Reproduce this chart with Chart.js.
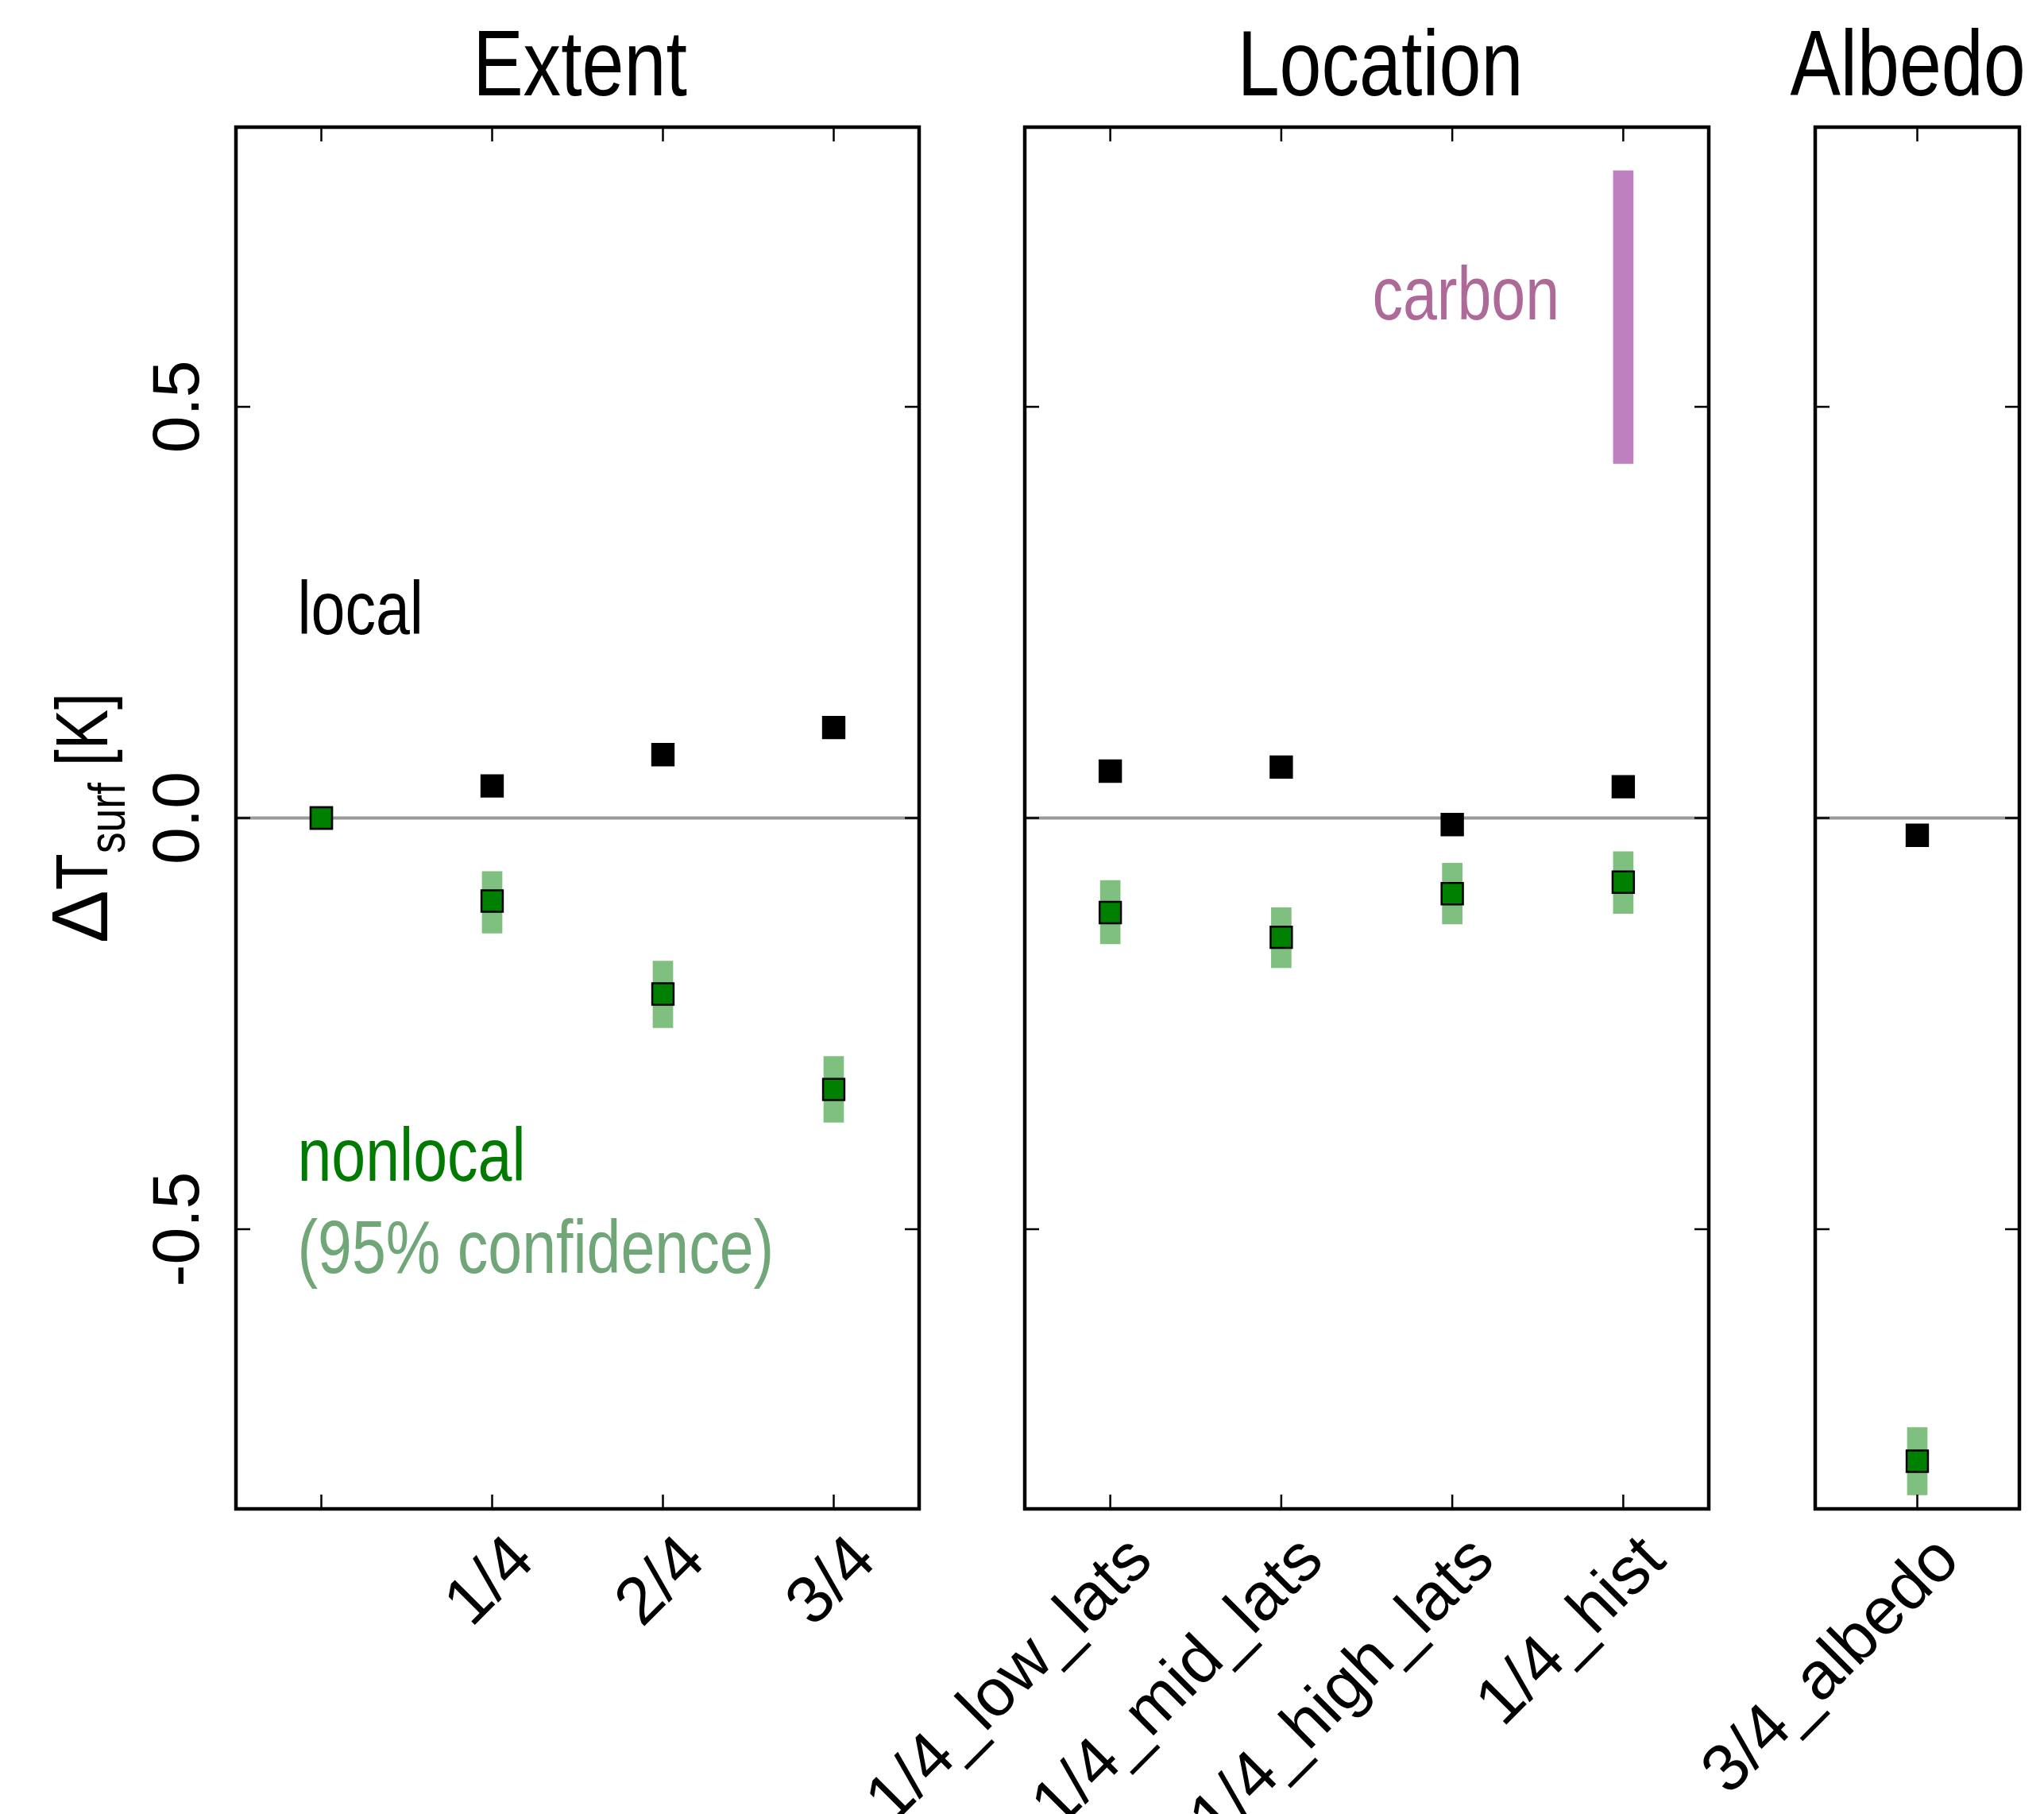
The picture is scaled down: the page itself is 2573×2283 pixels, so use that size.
<!DOCTYPE html>
<html lang="en">
<head>
    <meta charset="UTF-8">
    <title>Surface temperature response: Extent, Location, Albedo</title>
    <style>
        body {
            margin: 0;
            background: #fff;
        }
        .wrap {
            position: relative;
            width: 2573px;
            height: 2283px;
            overflow: hidden;
        }
        .panel {
            position: absolute;
            top: 0;
            height: 2283px;
        }
        #p1 { left: 0; width: 1230px; }
        #p2 { left: 1000px; width: 1220px; }
        #p3 { left: 1900px; width: 673px; }
    </style>
</head>
<body>
<div class="wrap">
    <div class="panel" id="p1"><canvas id="extentChart"></canvas></div>
    <div class="panel" id="p2"><canvas id="locationChart"></canvas></div>
    <div class="panel" id="p3"><canvas id="albedoChart"></canvas></div>
</div>

<script src="https://cdn.jsdelivr.net/npm/chart.js"></script>
<script>
    // y range and ticks shared by all three panels
    var yMin = -0.84, yMax = 0.84;
    var yTickValues = [-0.5, 0, 0.5];

    // Extent panel
    var extentLabels = ['', '1/4', '2/4', '3/4'];
    var extentLocal = [0, 0.039, 0.077, 0.110];
    var extentNonlocal = [0, -0.101, -0.214, -0.330];
    var extentCiLow = [null, -0.140, -0.255, -0.370];
    var extentCiHigh = [null, -0.065, -0.174, -0.290];

    // Location panel
    var locationLabels = ['1/4_low_lats', '1/4_mid_lats', '1/4_high_lats', '1/4_hist'];
    var locationLocal = [0.057, 0.062, -0.008, 0.038];
    var locationNonlocal = [-0.115, -0.145, -0.092, -0.078];
    var locationCiLow = [-0.153, -0.182, -0.129, -0.116];
    var locationCiHigh = [-0.076, -0.109, -0.055, -0.041];
    var carbonLow = [null, null, null, 0.431];
    var carbonHigh = [null, null, null, 0.787];

    // Albedo panel
    var albedoLabels = ['3/4_albedo'];
    var albedoLocal = [-0.021];
    var albedoNonlocal = [-0.782];
    var albedoCiLow = [-0.823];
    var albedoCiHigh = [-0.741];

    var FONT = '"Liberation Sans", Arial, sans-serif';
    var TEXT_SIZE = 84;
    var NARROW = 0.82;   // the original uses a narrow face, squeeze our own texts to match
    Chart.defaults.font.family = FONT;

    var ciColor = 'rgba(0, 128, 0, 0.5)';
    var carbonColor = '#bf80bf';

    function pairs(lo, hi) {
        return lo.map(function (v, i) { return v === null ? null : [v, hi[i]]; });
    }

    function narrowText(ctx, text, x, y, size) {
        ctx.font = size + 'px ' + FONT;
        var w = ctx.measureText(text).width;
        ctx.fillText(text, x, y, w * NARROW);
        return w * NARROW;
    }

    // zero line below the data, frame and inward ticks above it
    var framePlugin = {
        id: 'frame',
        beforeDatasetsDraw: function (chart) {
            var ctx = chart.ctx, a = chart.chartArea;
            var y0 = chart.scales.y.getPixelForValue(0);
            ctx.save();
            ctx.strokeStyle = '#999999';
            ctx.lineWidth = 4;
            ctx.beginPath();
            ctx.moveTo(a.left, y0);
            ctx.lineTo(a.right, y0);
            ctx.stroke();
            ctx.restore();
        },
        afterDatasetsDraw: function (chart) {
            var ctx = chart.ctx, a = chart.chartArea;
            var x = chart.scales.x, y = chart.scales.y;
            var len = 18;
            ctx.save();
            ctx.strokeStyle = '#000';
            ctx.lineWidth = 2.5;
            ctx.beginPath();
            x.ticks.forEach(function (t, i) {
                var px = x.getPixelForTick(i);
                ctx.moveTo(px, a.top); ctx.lineTo(px, a.top + len);
                ctx.moveTo(px, a.bottom); ctx.lineTo(px, a.bottom - len);
            });
            yTickValues.forEach(function (v) {
                var py = y.getPixelForValue(v);
                ctx.moveTo(a.left, py); ctx.lineTo(a.left + len, py);
                ctx.moveTo(a.right, py); ctx.lineTo(a.right - len, py);
            });
            ctx.stroke();
            ctx.lineWidth = 4.5;
            ctx.strokeRect(a.left, a.top, a.right - a.left, a.bottom - a.top);
            ctx.restore();
        }
    };

    // panel title above the frame
    var panelTitlePlugin = {
        id: 'panelTitle',
        afterDraw: function (chart, args, opts) {
            var ctx = chart.ctx, a = chart.chartArea;
            ctx.save();
            ctx.fillStyle = '#000';
            ctx.textAlign = 'center';
            ctx.textBaseline = 'alphabetic';
            narrowText(ctx, opts.text, (a.left + a.right) / 2 + (opts.dx || 0), 120, 116);
            ctx.restore();
        }
    };

    // text notes placed in data coordinates
    var notesPlugin = {
        id: 'notes',
        afterDraw: function (chart, args, opts) {
            if (!opts.items) return;
            var ctx = chart.ctx;
            var x = chart.scales.x, y = chart.scales.y;
            ctx.save();
            ctx.textBaseline = 'alphabetic';
            opts.items.forEach(function (n) {
                ctx.fillStyle = n.color;
                ctx.textAlign = n.align || 'left';
                narrowText(ctx, n.text, x.getPixelForValue(n.x), y.getPixelForValue(n.y), 94);
            });
            ctx.restore();
        }
    };

    // y axis title with subscript
    var yTitlePlugin = {
        id: 'ytitle',
        afterDraw: function (chart, args, opts) {
            if (!opts.show) return;
            var ctx = chart.ctx, a = chart.chartArea;
            var parts = [
                { t: '\u0394', size: 100, dy: 0, squeeze: 1 },
                { t: 'T', size: 92, dy: 0, squeeze: NARROW },
                { t: 'surf', size: 65, dy: 22, squeeze: NARROW },
                { t: ' [K]', size: 92, dy: 0, squeeze: NARROW }
            ];
            ctx.save();
            var total = 0;
            parts.forEach(function (p) {
                ctx.font = p.size + 'px ' + FONT;
                p.w = ctx.measureText(p.t).width * p.squeeze;
                total += p.w;
            });
            ctx.translate(135, (a.top + a.bottom) / 2);
            ctx.rotate(-Math.PI / 2);
            ctx.fillStyle = '#000';
            ctx.textAlign = 'left';
            ctx.textBaseline = 'alphabetic';
            var cx = -total / 2;
            parts.forEach(function (p) {
                ctx.font = p.size + 'px ' + FONT;
                ctx.fillText(p.t, cx, p.dy, p.w);
                cx += p.w;
            });
            ctx.restore();
        }
    };

    function noPadding(s) {
        s.paddingLeft = 0;
        s.paddingRight = 0;
        s.paddingTop = 0;
        s.paddingBottom = 0;
    }

    function makeDatasets(local, nonlocal, lo, hi) {
        return [
            {
                type: 'line', label: 'nonlocal', data: nonlocal, showLine: false,
                pointStyle: 'rect', pointRadius: 19, pointBorderWidth: 2.5,
                pointBackgroundColor: '#008000', pointBorderColor: '#000', order: 0
            },
            {
                type: 'line', label: 'local', data: local, showLine: false,
                pointStyle: 'rect', pointRadius: 19, pointBorderWidth: 2.5,
                pointBackgroundColor: '#000', pointBorderColor: '#000', order: 1
            },
            {
                type: 'bar', label: 'nonlocal (95% confidence)', data: pairs(lo, hi),
                backgroundColor: ciColor, borderWidth: 0, barThickness: 25,
                grouped: false, order: 2
            }
        ];
    }

    function makeOptions(title, titleDx, padLeft, padRight, showY, notes) {
        return {
            responsive: true,
            maintainAspectRatio: false,
            animation: false,
            events: [],
            layout: { padding: { left: padLeft, right: padRight, top: 160, bottom: 0 } },
            scales: {
                x: {
                    offset: true,
                    afterFit: function (s) { s.height = 384; noPadding(s); },
                    grid: { display: false, drawTicks: false },
                    border: { display: false },
                    ticks: {
                        autoSkip: false, minRotation: 45, maxRotation: 45,
                        padding: 16, labelOffset: 40,
                        color: '#000', font: { size: TEXT_SIZE }
                    }
                },
                y: {
                    display: showY,
                    min: yMin, max: yMax,
                    afterBuildTicks: function (s) {
                        s.ticks = yTickValues.map(function (v) { return { value: v }; });
                    },
                    afterFit: function (s) { if (showY) s.width = 297; noPadding(s); },
                    grid: { display: false, drawTicks: false },
                    border: { display: false },
                    ticks: {
                        minRotation: 90, maxRotation: 90, crossAlign: 'center',
                        padding: -2, color: '#000', font: { size: TEXT_SIZE },
                        callback: function (v) { return Number(v).toFixed(1); }
                    }
                }
            },
            plugins: {
                legend: { display: false },
                tooltip: { enabled: false },
                title: { display: false },
                panelTitle: { text: title, dx: titleDx },
                notes: { items: notes },
                ytitle: { show: showY }
            }
        };
    }

    var plugins = [framePlugin, panelTitlePlugin, notesPlugin, yTitlePlugin];

    new Chart(document.getElementById('extentChart'), {
        type: 'bar',
        data: {
            labels: extentLabels,
            datasets: makeDatasets(extentLocal, extentNonlocal, extentCiLow, extentCiHigh)
        },
        options: makeOptions('Extent', 3, 0, 73, true, [
            { text: 'local', x: -0.14, y: 0.224, color: '#000' },
            { text: 'nonlocal', x: -0.14, y: -0.441, color: '#007a00' },
            { text: '(95% confidence)', x: -0.14, y: -0.553, color: '#70a678' }
        ]),
        plugins: plugins
    });

    var locationSets = makeDatasets(locationLocal, locationNonlocal, locationCiLow, locationCiHigh);
    locationSets.push({
        type: 'bar', label: 'carbon', data: pairs(carbonLow, carbonHigh),
        backgroundColor: carbonColor, borderWidth: 0, barThickness: 25,
        grouped: false, order: 2
    });

    new Chart(document.getElementById('locationChart'), {
        type: 'bar',
        data: { labels: locationLabels, datasets: locationSets },
        options: makeOptions('Location', 17, 290, 69, false, [
            { text: 'carbon', x: 2.627, y: 0.606, color: '#ad6a98', align: 'right' }
        ]),
        plugins: plugins
    });

    new Chart(document.getElementById('albedoChart'), {
        type: 'bar',
        data: {
            labels: albedoLabels,
            datasets: makeDatasets(albedoLocal, albedoNonlocal, albedoCiLow, albedoCiHigh)
        },
        options: makeOptions('Albedo', -12, 385, 31, false, null),
        plugins: plugins
    });
</script>
</body>
</html>
